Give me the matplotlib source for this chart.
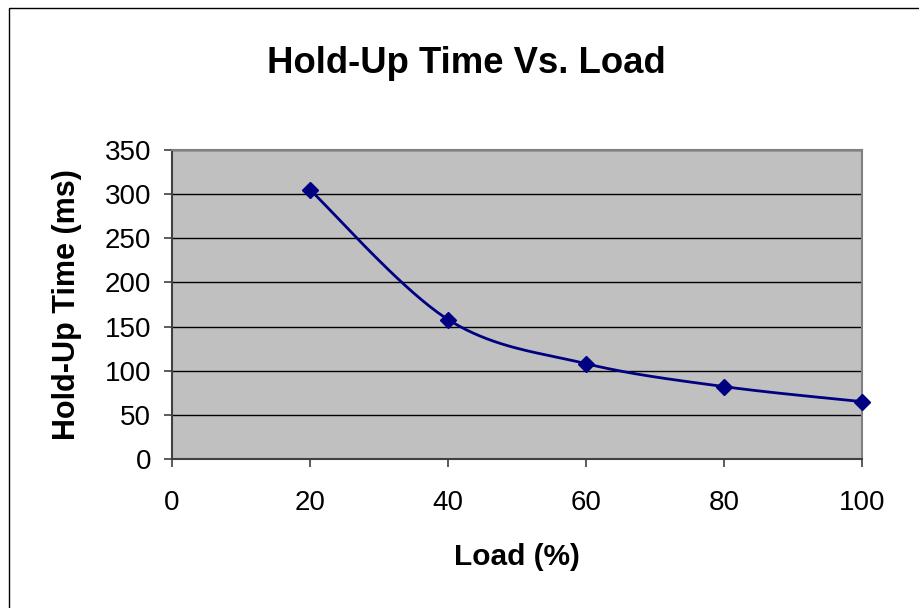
import matplotlib.pyplot as plt
import numpy as np
from matplotlib.patches import Rectangle

# data
load_pct = [20, 40, 60, 80, 100]
holdup_ms = [305, 158, 108, 82, 65]
x_ticks = [0, 20, 40, 60, 80, 100]
y_ticks = [0, 50, 100, 150, 200, 250, 300, 350]

plt.rcParams['font.family'] = ['Liberation Sans', 'DejaVu Sans']

navy = '#000080'


def smooth_curve(xs, ys, xr, yr, n=40):
    # excel-like smoothing: catmull-rom bezier in normalised space
    px = np.asarray(xs, float) / xr
    py = np.asarray(ys, float) / yr
    px = np.concatenate([[px[0]], px, [px[-1]]])
    py = np.concatenate([[py[0]], py, [py[-1]]])
    out_x, out_y = [], []
    t = np.linspace(0, 1, n)
    for i in range(1, len(px) - 2):
        p0 = np.array([px[i], py[i]])
        p3 = np.array([px[i + 1], py[i + 1]])
        c1 = p0 + (p3 - np.array([px[i - 1], py[i - 1]])) / 6
        c2 = p3 - (np.array([px[i + 2], py[i + 2]]) - p0) / 6
        b = ((1 - t) ** 3)[:, None] * p0 + (3 * (1 - t) ** 2 * t)[:, None] * c1 \
            + (3 * (1 - t) * t ** 2)[:, None] * c2 + (t ** 3)[:, None] * p3
        out_x.extend(b[:, 0] * xr)
        out_y.extend(b[:, 1] * yr)
    return out_x, out_y


fig = plt.figure(figsize=(9.2, 6.08), dpi=100)
ax = fig.add_axes([172 / 920, 1 - 459 / 608, 690 / 920, 309 / 608])

# outer chart frame (only left and top edges fall inside the image)
fig.patches.append(Rectangle((9 / 920, -0.1), 1.2, 1.1 - 8 / 608, transform=fig.transFigure,
                             fill=False, edgecolor='black', linewidth=1.0))

ax.set_facecolor('#C0C0C0')
ax.set_xlim(0, 100)
ax.set_ylim(0, 350)
ax.set_xticks(x_ticks)
ax.set_yticks(y_ticks)
ax.yaxis.grid(True, color='black', linewidth=1.0)
ax.set_axisbelow(True)

sx, sy = smooth_curve(load_pct, holdup_ms, 100.0, 350.0 * 309 / 690)
ax.plot(sx, sy, color=navy, linewidth=2.0, clip_on=False, zorder=3)
ax.plot(load_pct, holdup_ms, linestyle='none', marker='D', markersize=8,
        color=navy, clip_on=False, zorder=4)

for side in ['top', 'right']:
    ax.spines[side].set_color('#808080')
    ax.spines[side].set_linewidth(1.5)
for side in ['left', 'bottom']:
    ax.spines[side].set_color('#404040')
    ax.spines[side].set_linewidth(1.5)

ax.tick_params(axis='both', direction='out', length=6, width=1.2, color='#404040',
               labelsize=20)
ax.tick_params(axis='x', pad=16)
ax.tick_params(axis='y', pad=9)

ax.set_xlabel('Load (%)', fontsize=21.5, fontweight='bold', labelpad=20)
ax.set_ylabel('Hold-Up Time (ms)', fontsize=22, fontweight='bold', labelpad=16)
fig.text(466 / 920, 1 - 73 / 608, 'Hold-Up Time Vs. Load', ha='center', va='baseline',
         fontsize=26.3, fontweight='bold')

fig.savefig('out.png', dpi=100)
